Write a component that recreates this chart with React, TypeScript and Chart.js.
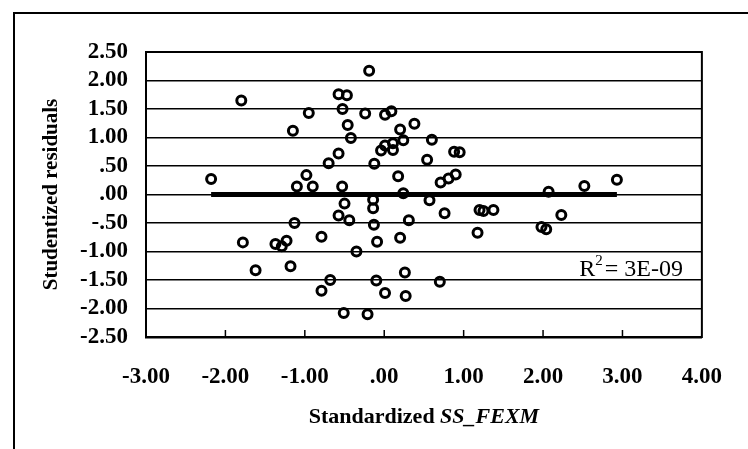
import { useEffect, useRef } from "react";
import { Chart, registerables } from "chart.js";

Chart.register(...registerables);

// Standardized SS_FEXM (x) and studentized residuals (y)
const standardizedX = [
  -2.18, -1.8, -1.78, -1.62, -1.37, -1.29, -1.23, -1.18, -1.15, -1.1,
  -1.13, -0.98, -0.95, -0.9, -0.79, -0.79, -0.7, -0.68, -0.575, -0.575,
  -0.47, -0.53, -0.525, -0.5, -0.575, -0.44, -0.46, -0.42, -0.51, -0.35,
  -0.24, -0.19, -0.21, -0.125, -0.14, -0.14, -0.13, -0.09, -0.1, -0.04,
  0.01, 0.01, 0.01, 0.09, 0.11, 0.11, 0.175, 0.2, 0.2, 0.24,
  0.24, 0.26, 0.27, 0.31, 0.38, 0.54, 0.57, 0.6, 0.71, 0.7,
  0.76, 0.81, 0.9, 0.88, 0.95, 1.175, 1.2, 1.25, 1.375, 1.98,
  2.04, 2.07, 2.23, 2.52, 2.93,
];
const studentizedResiduals = [
  0.27, 1.65, -0.84, -1.33, -0.87, -0.91, -0.81, -1.26, 1.12, 0.14,
  -0.5, 0.34, 1.43, 0.14, -0.74, -1.69, 0.55, -1.5, 0.72, 1.76,
  1.74, 0.14, 1.5, -0.16, -0.37, -0.45, 1.22, 0.99, -2.08, -1.0,
  1.42, 2.17, -2.1, 0.54, -0.09, -0.24, -0.53, -0.83, -1.51, 0.77,
  1.4, 0.86, -1.73, 1.46, 0.78, 0.9, 0.32, 1.14, -0.76, 0.95,
  0.02, -1.37, -1.78, -0.45, 1.24, 0.61, -0.1, 0.96, 0.21, -1.53,
  -0.33, 0.28, 0.35, 0.75, 0.74, -0.67, -0.27, -0.29, -0.27, -0.57,
  -0.61, 0.05, -0.36, 0.15, 0.26,
];

// Linear trend line (R² = 3E-09): essentially flat at zero
const trendSlope = 0;
const trendIntercept = 0;
const rSquaredText = "3E-09";

const xTickValues = [-3, -2, -1, 0, 1, 2, 3, 4];
const yTickValues = [-2.5, -2, -1.5, -1, -0.5, 0, 0.5, 1, 1.5, 2, 2.5];

const xTitleMain = "Standardized ";
const xTitleItalic = "SS_FEXM";
const yTitleText = "Studentized residuals";

const SERIF = "'Liberation Serif', 'Times New Roman', serif";

function fmt(v: number): string {
  const a = Math.abs(v).toFixed(2).replace(/^0\./, ".");
  return (v < 0 ? "-" : "") + a;
}

const decorPlugin = {
  id: "decor",
  afterDraw(chart: any) {
    const ctx = chart.ctx as CanvasRenderingContext2D;
    const { left, right, top, bottom } = chart.chartArea;
    const xs = chart.scales.x;
    ctx.save();
    ctx.strokeStyle = "#000";
    ctx.fillStyle = "#000";

    // outer frame (left + top edges)
    ctx.lineWidth = 2;
    ctx.beginPath();
    ctx.moveTo(14, 449);
    ctx.lineTo(14, 13);
    ctx.lineTo(748, 13);
    ctx.stroke();

    // plot area border
    ctx.lineWidth = 2;
    ctx.strokeRect(left, top, right - left, bottom - top);

    // inward tick marks on the bottom axis
    ctx.lineWidth = 1.5;
    xTickValues.forEach((v, i) => {
      if (i === 0 || i === xTickValues.length - 1) return;
      const px = xs.getPixelForValue(v);
      ctx.beginPath();
      ctx.moveTo(px, bottom);
      ctx.lineTo(px, bottom - 7);
      ctx.stroke();
    });

    // y axis title
    ctx.save();
    ctx.translate(52, (top + bottom) / 2);
    ctx.rotate(-Math.PI / 2);
    ctx.font = `bold 21px ${SERIF}`;
    ctx.textAlign = "center";
    ctx.textBaseline = "middle";
    ctx.fillText(yTitleText, 0, 0);
    ctx.restore();

    // x axis title (mixed upright / italic)
    const fMain = `bold 22px ${SERIF}`;
    const fItal = `italic bold 22px ${SERIF}`;
    ctx.font = fMain;
    const w1 = ctx.measureText(xTitleMain).width;
    ctx.font = fItal;
    const w2 = ctx.measureText(xTitleItalic).width;
    let sx = (left + right) / 2 - (w1 + w2) / 2;
    const ty = bottom + 80;
    ctx.textAlign = "left";
    ctx.textBaseline = "middle";
    ctx.font = fMain;
    ctx.fillText(xTitleMain, sx, ty);
    ctx.font = fItal;
    ctx.fillText(xTitleItalic, sx + w1, ty);

    // R² annotation
    const rEnd = right - 19;
    const ry = top + (bottom - top) * 0.765;
    const big = `24px ${SERIF}`;
    const small = `15px ${SERIF}`;
    const rest = "= " + rSquaredText;
    ctx.font = big;
    const wR = ctx.measureText("R").width;
    const wRest = ctx.measureText(rest).width;
    ctx.font = small;
    const w2s = ctx.measureText("2").width;
    const total = wR + w2s + 2 + wRest;
    sx = rEnd - total;
    ctx.font = big;
    ctx.fillText("R", sx, ry);
    ctx.font = small;
    ctx.fillText("2", sx + wR, ry - 9);
    ctx.font = big;
    ctx.fillText(rest, sx + wR + w2s + 2, ry);
    ctx.restore();
  },
};

export default function App() {
  const ref = useRef<HTMLCanvasElement | null>(null);

  useEffect(() => {
    if (!ref.current) return;
    const points = standardizedX.map((x, i) => ({ x, y: studentizedResiduals[i] }));
    const minX = Math.min(...standardizedX);
    const maxX = Math.max(...standardizedX);
    const trend = [
      { x: minX, y: trendIntercept + trendSlope * minX },
      { x: maxX, y: trendIntercept + trendSlope * maxX },
    ];
    const tickFont = { family: SERIF, size: 23, weight: "bold" as const };

    const chart = new Chart(ref.current, {
      type: "scatter",
      data: {
        datasets: [
          {
            label: "Residuals",
            data: points,
            pointStyle: "circle",
            pointRadius: 4.5,
            pointBorderWidth: 3,
            pointBorderColor: "#000",
            pointBackgroundColor: "rgba(0,0,0,0)",
            showLine: false,
          },
          {
            type: "line",
            label: "Trend",
            data: trend,
            borderColor: "#000",
            borderWidth: 5,
            pointRadius: 0,
            fill: false,
          } as any,
        ],
      },
      options: {
        responsive: false,
        animation: false,
        devicePixelRatio: 1,
        layout: { padding: { top: 52, right: 42, left: 0, bottom: 0 } },
        plugins: {
          legend: { display: false },
          tooltip: { enabled: false },
        },
        scales: {
          x: {
            type: "linear",
            position: "bottom",
            min: -3,
            max: 4,
            afterBuildTicks: (s: any) => {
              s.ticks = xTickValues.map((v) => ({ value: v }));
            },
            ticks: {
              color: "#000",
              font: tickFont,
              padding: 26,
              maxRotation: 0,
              autoSkip: false,
              callback: (v: any) => fmt(Number(v)),
            },
            grid: { display: false, drawTicks: false },
            border: { display: true, color: "#000", width: 2.5 },
            afterFit: (s: any) => {
              s.height = 112;
            },
          },
          y: {
            type: "linear",
            min: -2.5,
            max: 2.5,
            afterBuildTicks: (s: any) => {
              s.ticks = yTickValues.map((v) => ({ value: v }));
            },
            ticks: {
              color: "#000",
              font: tickFont,
              padding: 18,
              autoSkip: false,
              callback: (v: any) => fmt(Number(v)),
            },
            grid: { color: "#000", lineWidth: 1.5, drawTicks: false },
            border: { display: true, color: "#000", width: 2 },
            afterFit: (s: any) => {
              s.width = 146;
            },
          },
        },
      },
      plugins: [decorPlugin],
    });
    return () => chart.destroy();
  }, []);

  return (
    <div
      style={{
        position: "fixed",
        left: 0,
        top: 0,
        width: 748,
        height: 449,
        background: "#fff",
      }}
    >
      <canvas ref={ref} width={748} height={449} style={{ display: "block" }} />
    </div>
  );
}
